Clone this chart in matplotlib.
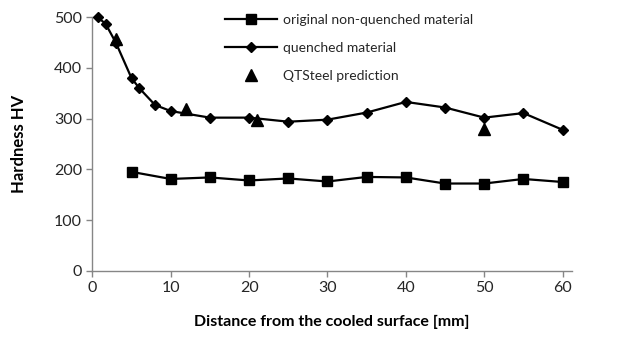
import matplotlib
matplotlib.use("Agg")
import matplotlib.pyplot as plt

plt.rcParams['font.family'] = ['Lato', 'DejaVu Sans']

# Hardness profiles vs. distance from the cooled surface
dist_original = [5, 10, 15, 20, 25, 30, 35, 40, 45, 50, 55, 60]
hv_original = [195, 181, 184, 178, 182, 176, 185, 184, 172, 172, 181, 175]

dist_quenched = [0.7, 1.7, 3, 5, 6, 8, 10, 15, 20, 25, 30, 35, 40, 45, 50, 55, 60]
hv_quenched = [500, 487, 450, 380, 360, 327, 315, 302, 302, 294, 298, 312, 333, 322, 302, 311, 278]

dist_pred = [3, 12, 21, 50]
hv_pred = [458, 320, 298, 280]

x_ticks = [0, 10, 20, 30, 40, 50, 60]
y_ticks = [0, 100, 200, 300, 400, 500]

axis_grey = '#868686'
text_col = '#262626'

fig = plt.figure(figsize=(6.2, 3.43), dpi=100)
ax = fig.add_axes([0.1489, 0.2108, 0.7737, 0.7388])

ax.plot(dist_original, hv_original, color='black', lw=1.6, marker='s', ms=7,
        label='original non-quenched material', clip_on=False, zorder=3)
ax.plot(dist_quenched, hv_quenched, color='black', lw=1.6, marker='D', ms=4.8,
        label='quenched material', clip_on=False, zorder=3)
ax.plot(dist_pred, hv_pred, linestyle='none', color='black', marker='^', ms=8,
        label='QTSteel prediction', clip_on=False, zorder=4)

ax.set_xlim(0, 61.2)
ax.set_ylim(0, 500)
ax.set_xticks(x_ticks)
ax.set_yticks(y_ticks)

for side in ('top', 'right'):
    ax.spines[side].set_visible(False)
for side in ('left', 'bottom'):
    ax.spines[side].set_color(axis_grey)
    ax.spines[side].set_linewidth(1.0)

ax.tick_params(axis='both', direction='out', length=4.5, width=1.0, color=axis_grey,
               labelsize=11.5, labelcolor=text_col, pad=3)

ax.set_xlabel('Distance from the cooled surface [mm]', fontsize=11.5, fontweight='bold',
              color='black', labelpad=14)
ax.set_ylabel('Hardness HV', fontsize=12, fontweight='bold', color='black', labelpad=19)

leg = ax.legend(loc='upper left', bbox_to_anchor=(0.264, 1.034), frameon=False,
                fontsize=10, handlelength=3.8, handletextpad=0.43, labelspacing=1.15,
                borderaxespad=0)
for t in leg.get_texts():
    t.set_color(text_col)

fig.savefig('out.png', dpi=100)
